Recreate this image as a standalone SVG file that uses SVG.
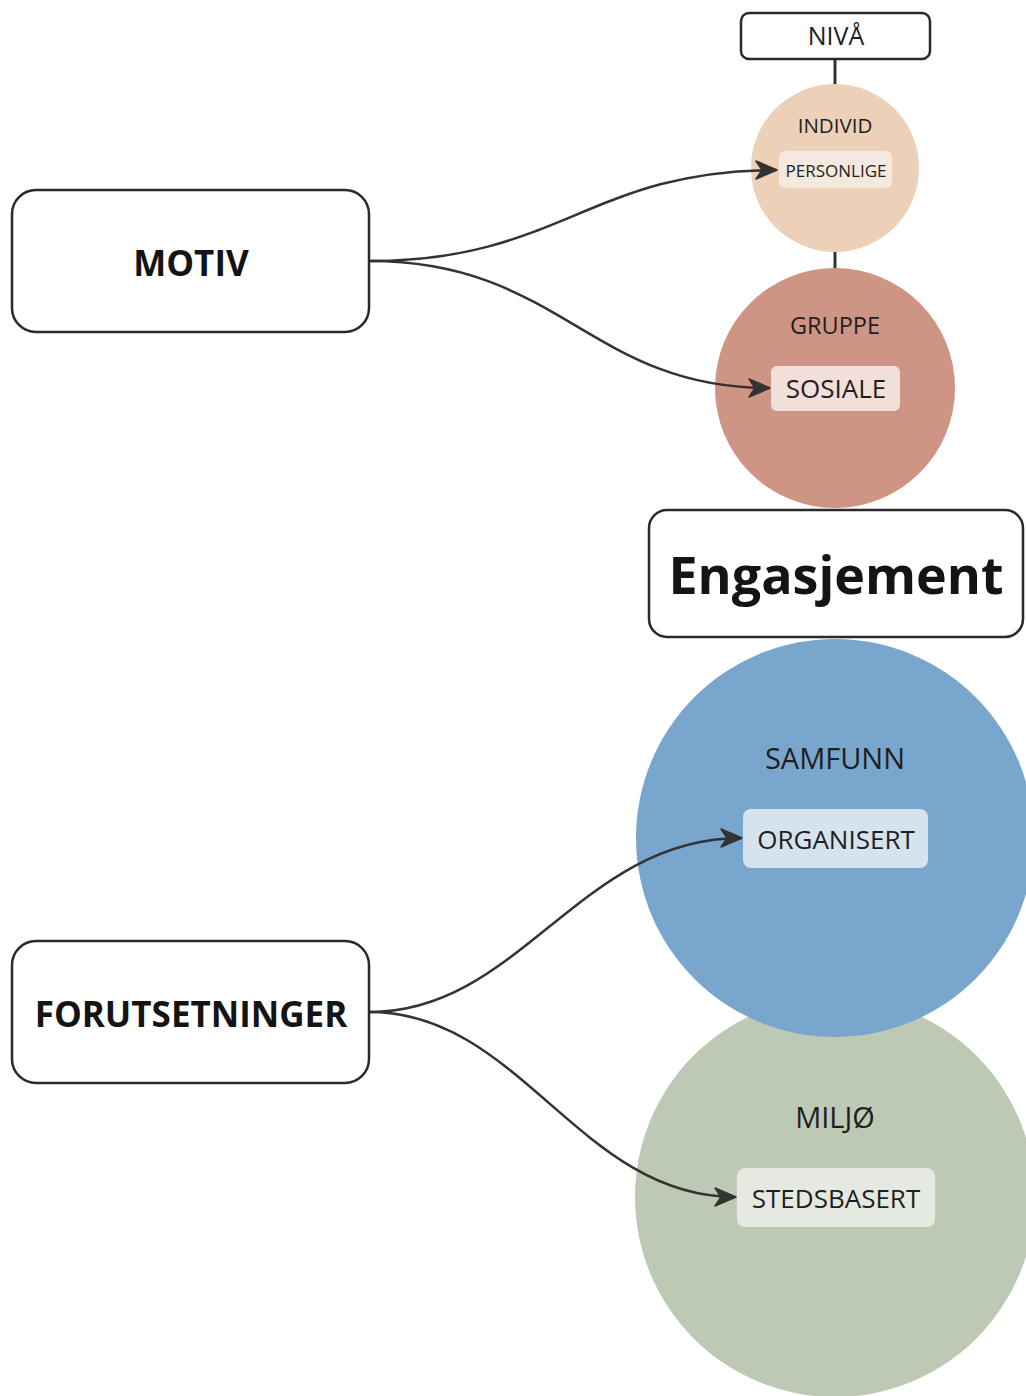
<svg xmlns="http://www.w3.org/2000/svg" width="1026" height="1396" viewBox="0 0 1026 1396">
<style>
.box{fill:#fff;stroke:#2a2a2a;stroke-width:2.5}
.t{font-family:"Open Sans","Noto Sans","Liberation Sans",sans-serif;text-anchor:middle;dominant-baseline:central;fill:#1f1f1f}
.b{font-weight:700;fill:#141414}
.conn{fill:none;stroke:#333;stroke-width:2.5}
.stem{stroke:#333;stroke-width:3}
</style>
<defs>
<marker id="arr" viewBox="-22 -11 24 22" refX="0" refY="0" markerWidth="24" markerHeight="22" markerUnits="userSpaceOnUse" orient="auto">
<path d="M-20,-9 L1,0 L-20,9 L-14,0 Z" fill="#333" stroke="#333" stroke-width="1.5" stroke-linejoin="round"/>
</marker>
</defs>
<rect width="1026" height="1396" fill="#fff"/>
<g id="stems">
<line class="stem" x1="835" y1="59" x2="835" y2="86"/>
<line class="stem" x1="835" y1="250" x2="835" y2="270"/>
</g>
<g id="miljo">
<circle cx="835" cy="1197" r="200" fill="#bdc9b4"/>
<text class="t" x="835" y="1116" font-size="29">MILJØ</text>
<rect x="737" y="1168" width="198" height="59" rx="8" fill="#e5e9e2"/>
<text class="t" x="836" y="1198" font-size="26">STEDSBASERT</text>
</g>
<g id="samfunn">
<circle cx="835" cy="838" r="199" fill="#79a6cc"/>
<text class="t" x="835" y="757" font-size="29">SAMFUNN</text>
<rect x="743" y="809" width="185" height="59" rx="8" fill="#d6e3ef"/>
<text class="t" x="836" y="839" font-size="26">ORGANISERT</text>
</g>
<g id="gruppe">
<circle cx="835" cy="388" r="120" fill="#cf9584"/>
<text class="t" x="835" y="325" font-size="23.5">GRUPPE</text>
<rect x="771" y="366" width="129" height="45" rx="6" fill="#f2dfd9"/>
<text class="t" x="836" y="388" font-size="26">SOSIALE</text>
</g>
<g id="individ">
<circle cx="835" cy="168" r="84" fill="#ecd0b8"/>
<text class="t" x="835" y="125" font-size="20.5">INDIVID</text>
<rect x="779" y="151" width="113" height="37" rx="6" fill="#f4e8df"/>
<text class="t" x="836" y="170" font-size="17">PERSONLIGE</text>
</g>
<g id="niva">
<rect class="box" x="741" y="13" width="189" height="46" rx="8"/>
<text class="t" x="836" y="35" font-size="25">NIVÅ</text>
</g>
<g id="engasjement">
<rect class="box" x="649" y="510" width="374" height="127" rx="18"/>
<text class="t b" x="836" y="573" font-size="52">Engasjement</text>
</g>
<g id="motiv">
<rect class="box" x="12" y="190" width="357" height="142" rx="24"/>
<text class="t b" x="191" y="262" font-size="35">MOTIV</text>
</g>
<g id="forutsetninger">
<rect class="box" x="12" y="941" width="357" height="142" rx="24"/>
<text class="t b" x="191" y="1013" font-size="35">FORUTSETNINGER</text>
</g>
<g id="connectors">
<path class="conn" marker-end="url(#arr)" d="M370,261 C560,261 590,170 776,170"/>
<path class="conn" marker-end="url(#arr)" d="M370,261 C560,261 590,388 769,388"/>
<path class="conn" marker-end="url(#arr)" d="M370,1012 C520,1012 580,838 741,838"/>
<path class="conn" marker-end="url(#arr)" d="M370,1012 C520,1012 580,1197 735,1197"/>
</g>
</svg>
